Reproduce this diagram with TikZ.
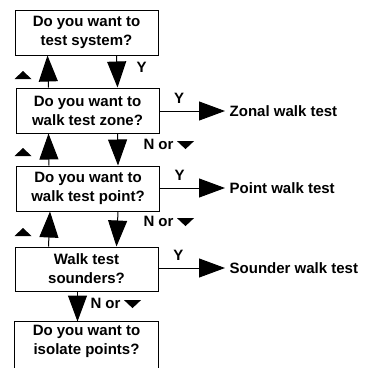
\documentclass[tikz,border=0pt]{standalone}
\usepackage{fontspec}
\setmainfont{Liberation Sans}
\usetikzlibrary{arrows.meta}

\begin{document}
\begin{tikzpicture}[x=1pt,y=-1pt,line width=1pt,
  font=\bfseries\fontsize{15}{19}\selectfont,
  ques/.style={draw,align=center,minimum width=143pt,minimum height=45pt,inner sep=0pt},
  lbl/.style={inner sep=0pt},
  go/.style={-{Triangle[width=19pt,length=26pt]}},
  dnmark/.pic={\fill (-8.5,-4) -- (8.5,-4) -- (0,4) -- cycle;},
  upmark/.pic={\fill (-8.5,4) -- (8.5,4) -- (0,-4) -- cycle;}]
\useasboundingbox (0,0) rectangle (369,367);
% question boxes
\node [ques] (sys) at (86.5,32.5) {Do you want to\\test system?};
\node [ques] (zone) at (87.5,110.5) {Do you want to\\walk test zone?};
\node [ques] (point) at (88,188.5) {Do you want to\\walk test point?};
\node [ques,minimum height=44pt] (sound) at (86.5,269) {Walk test\\sounders?};
\node [lbl,align=center,minimum width=143pt,minimum height=39pt] (iso) at (86.5,341.5)
  {Do you want to\\isolate points?};
\draw ([yshift=-14pt]iso.south west) |- (iso.north east) -- ([yshift=-14pt]iso.south east);
% results
\node [lbl,anchor=west] (zonal) at (225,111) {~Zonal walk test};
\node [lbl,anchor=west] (ptwalk) at (225,188) {~Point walk test};
\node [lbl,anchor=west] (sdwalk) at (225,268) {~Sounder walk test};
\draw [go] (zone.east |- zonal) -- (zonal.west) node [pos=0.3,above=4pt] {Y};
\draw [go] (point.east |- ptwalk) -- (ptwalk.west) node [pos=0.3,above=4pt] {Y};
\draw [go] (sound.east |- sdwalk) -- (sdwalk.west) node [pos=0.3,above=4pt] {Y};
% up and down between the boxes
\draw [go] ([xshift=33pt]zone.north west) -- ([xshift=33pt]sys.south west);
\draw [go] ([xshift=102pt]sys.south west) -- ([xshift=102pt]zone.north west);
\draw [go] ([xshift=33pt]point.north west) -- ([xshift=33pt]zone.south west);
\draw [go] ([xshift=102pt]zone.south west) -- ([xshift=102pt]point.north west);
\draw [go] ([xshift=34pt]sound.north west) -- ([xshift=34pt]point.south west);
\draw [go] ([xshift=102pt]point.south west) -- ([xshift=102pt]sound.north west);
\draw [go] ([xshift=63pt]sound.south west) -- ([xshift=63pt]iso.north west);
\path (23,75) pic {upmark} (23,152) pic {upmark} (23,232) pic {upmark};
% branch labels
\node [lbl,anchor=west] (y1) at (136,67) {Y};
\node [lbl,anchor=west] (nor1) at (143,144) {N or};
\node [lbl,anchor=west] (nor2) at (143,221) {N or};
\node [lbl,anchor=west] (nor3) at (90,303) {N or};
\path (nor1.base east) ++(11.5,-4) pic {dnmark};
\path (nor2.base east) ++(11.5,-4) pic {dnmark};
\path (nor3.base east) ++(11.5,-4) pic {dnmark};
\end{tikzpicture}
\end{document}
